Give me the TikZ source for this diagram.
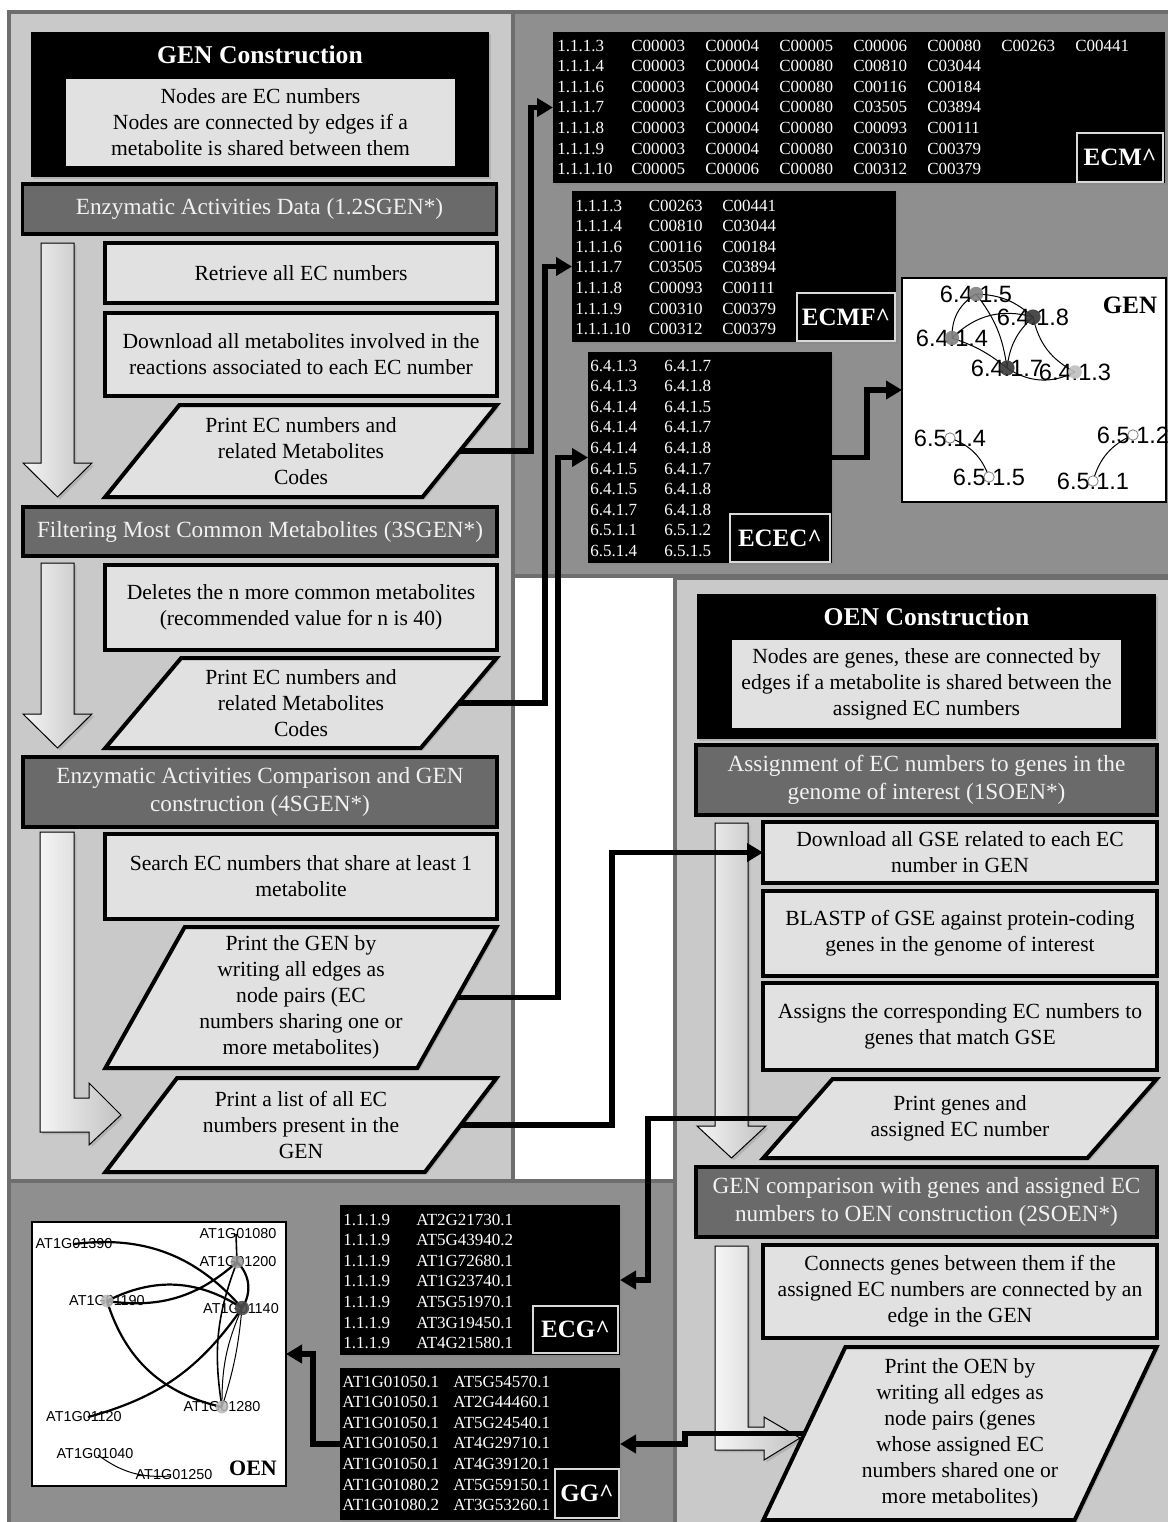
\documentclass[tikz,border=0pt]{standalone}
\usepackage{fontspec}
\setmainfont{Liberation Serif}
\newfontfamily\grafont{Liberation Sans}
\usetikzlibrary{shapes.geometric,arrows.meta,shadows}

\definecolor{panellight}{HTML}{C9C9C9}
\definecolor{paneldark}{HTML}{8F8F8F}
\definecolor{panelline}{HTML}{6E6E6E}
\definecolor{boxfill}{HTML}{E1E1E1}
\definecolor{headfill}{HTML}{6A6A6A}

\tikzset{
  shade box/.style={drop shadow={shadow xshift=1.2pt, shadow yshift=-1.2pt, opacity=0.3}},
  panel/.style={draw=panelline, line width=1.6pt},
  fat/.style={draw=black, line width=0.5pt, left color=black!4, right color=black!24, shade box},
  blackbox/.style={fill=black, inner sep=0pt, outer sep=0pt, shade box},
  title/.style={text=white, font=\bfseries\fontsize{12.8}{15}\selectfont},
  desc/.style={fill=boxfill, align=center, inner sep=0pt, font=\fontsize{10.8}{13}\selectfont},
  head/.style={draw, line width=1.6pt, fill=headfill, text=white!95!black, align=center,
    inner sep=0pt, outer sep=0pt, minimum width=237pt, font=\fontsize{11.6}{14}\selectfont, shade box},
  box/.style={draw, line width=2pt, fill=boxfill, align=center, inner sep=0pt, outer sep=0pt,
    minimum width=196pt, font=\fontsize{10.8}{13}\selectfont, shade box},
  pgram/.style 2 args={trapezium, trapezium stretches=true, trapezium left angle=#1,
    trapezium right angle=#2, draw, line width=2pt, fill=boxfill, align=center,
    inner sep=1pt, outer sep=0pt, minimum width=196pt, font=\fontsize{10.8}{13}\selectfont, shade box},
  tab/.style={text=white, anchor=base west, inner sep=0pt, font=\fontsize{8.5}{10.3}\selectfont},
  tag/.style={fill=black, draw=gray!30, line width=1pt, text=white, inner sep=0pt, outer sep=0pt,
    font=\bfseries\fontsize{12.5}{14}\selectfont},
  graphbox/.style={draw, line width=1pt, fill=white, inner sep=0pt, outer sep=0pt},
  glabel/.style={inner sep=0pt, font=\grafont\fontsize{11.8}{12}\selectfont},
  olabel/.style={inner sep=0pt, font=\grafont\fontsize{7.2}{8}\selectfont},
  gedge/.style={line width=0.5pt},
  oedge/.style={line width=1.1pt},
  conn/.style={line width=2.6pt, -{Triangle[length=8pt,width=9pt]}},
}

\begin{document}
\begin{tikzpicture}[x=0.5pt, y=-0.5pt]
    % Rozmiar rysunku
    \useasboundingbox (0,0) rectangle (1168,1522);

    % Panele
    \draw[panel, fill=paneldark] (513,12) rectangle (1172,576);
    \draw[panel, fill=panellight] (9,12) rectangle (513,1181);
    \draw[panel, fill=panellight] (675,578) rectangle (1172,1526);
    \draw[panel, fill=paneldark] (9,1181) rectangle (675,1526);

    % Szerokie strzalki
    \draw[fat] (41,243) -- (74,243) -- (74,463) -- (92,463) -- (57.5,497) -- (23,463) -- (41,463) -- cycle;
    \draw[fat] (41,563) -- (74,563) -- (74,714) -- (92,714) -- (57.5,748) -- (23,714) -- (41,714) -- cycle;
    \draw[fat] (40,832) -- (74,832) -- (74,1098) -- (89,1098) -- (89,1083) -- (121,1115)
        -- (89,1145) -- (89,1132) -- (40,1132) -- cycle;
    \draw[fat] (715,823) -- (748,823) -- (748,1126) -- (766,1126) -- (731.5,1158) -- (697,1126) -- (715,1126) -- cycle;
    \draw[fat] (715,1246) -- (748,1246) -- (748,1427) -- (764,1427) -- (764,1417) -- (800,1438)
        -- (764,1460) -- (764,1450) -- (715,1450) -- cycle;

    % GEN Construction
    \node[blackbox, minimum width=229pt, minimum height=72.5pt] (gencons) at (260,104.5) {};
    \node[title] (gentitle) at (260,55) {GEN Construction};
    \node[desc, minimum width=194.5pt, minimum height=43.5pt] (gendesc) at (260.5,122.5)
        {Nodes are EC numbers\\Nodes are connected by edges if a\\metabolite is shared between them};

    \node[head, minimum height=25pt] (hd1) at (259.5,209) {Enzymatic Activities Data (1.2SGEN*)};
    \node[box, minimum height=30pt] (bx1) at (301,273) {Retrieve all EC numbers};
    \node[box, minimum height=41.5pt] (bx2) at (301,354.5)
        {Download all metabolites involved in the\\reactions associated to each EC number};
    \node[pgram={50}{130}, minimum height=46pt] (pg1) at (301,451)
        {Print EC numbers and\\related Metabolites\\Codes};

    \node[head, minimum height=24.5pt] (hd2) at (260,531.5) {Filtering Most Common Metabolites (3SGEN*)};
    \node[box, minimum height=42.5pt] (bx3) at (301,607.5)
        {Deletes the n more common metabolites\\(recommended value for n is 40)};
    \node[pgram={49}{131}, minimum height=45pt] (pg2) at (301,703)
        {Print EC numbers and\\related Metabolites\\Codes};

    \node[head, minimum height=35pt] (hd3) at (260,792)
        {Enzymatic Activities Comparison and GEN\\construction (4SGEN*)};
    \node[box, minimum height=42.5pt] (bx4) at (301,876.5)
        {Search EC numbers that share at least 1\\metabolite};
    \node[pgram={61}{119}, minimum height=70.5pt] (pg3) at (301,997.5)
        {Print the GEN by\\writing all edges as\\node pairs (EC\\numbers sharing one or\\more metabolites)};
    \node[pgram={51}{129}, minimum height=47pt] (pg4) at (301,1125)
        {Print a list of all EC\\numbers present in the\\GEN};

    % OEN Construction
    \node[blackbox, minimum width=229.5pt, minimum height=72.5pt] (oencons) at (926.5,666.5) {};
    \node[title] (oentitle) at (926.5,617) {OEN Construction};
    \node[desc, minimum width=194.5pt, minimum height=44pt] (oendesc) at (926.5,684)
        {Nodes are genes, these are connected by\\edges if a metabolite is shared between the\\assigned EC numbers};

    \node[head, minimum width=230.5pt, minimum height=35pt] (hd4) at (926.5,780)
        {Assignment of EC numbers to genes in the\\genome of interest (1SOEN*)};
    \node[box, minimum width=197pt, minimum height=30.5pt] (bx5) at (960,852.5)
        {Download all GSE related to each EC\\number in GEN};
    \node[box, minimum width=197pt, minimum height=42.5pt] (bx6) at (960,933.5)
        {BLASTP of GSE against protein-coding\\genes in the genome of interest};
    \node[box, minimum width=197pt, minimum height=43.5pt] (bx7) at (960,1026.5)
        {Assigns the corresponding EC numbers to\\genes that match GSE};
    \node[pgram={45}{135}, minimum width=197pt, minimum height=39.5pt] (pg5) at (960,1118.5)
        {Print genes and\\assigned EC number};

    \node[head, minimum width=230.5pt, minimum height=35pt] (hd5) at (926.5,1202)
        {GEN comparison with genes and assigned EC\\numbers to OEN construction (2SOEN*)};
    \node[box, minimum width=197pt, minimum height=46.5pt] (bx8) at (960,1291.5)
        {Connects genes between them if the\\assigned EC numbers are connected by an\\edge in the GEN};
    \node[pgram={65}{115}, minimum width=197pt, minimum height=86.5pt] (pg6) at (960,1433.5)
        {Print the OEN by\\writing all edges as\\node pairs (genes\\whose assigned EC\\numbers shared one or\\more metabolites)};

    % Tabele
    \node[blackbox, minimum width=306pt, minimum height=75.5pt] (ecm) at (859,107.5) {};
    \node[tab] (ecmtab) at (557,51) {\begin{tabular}[t]{@{}*{7}{p{37pt}@{}}l@{}}
        1.1.1.3 & C00003 & C00004 & C00005 & C00006 & C00080 & C00263 & C00441\\
        1.1.1.4 & C00003 & C00004 & C00080 & C00810 & C03044 & & \\
        1.1.1.6 & C00003 & C00004 & C00080 & C00116 & C00184 & & \\
        1.1.1.7 & C00003 & C00004 & C00080 & C03505 & C03894 & & \\
        1.1.1.8 & C00003 & C00004 & C00080 & C00093 & C00111 & & \\
        1.1.1.9 & C00003 & C00004 & C00080 & C00310 & C00379 & & \\
        1.1.1.10 & C00005 & C00006 & C00080 & C00312 & C00379 & &
        \end{tabular}};
    \node[tag, minimum width=43pt, minimum height=24.5pt] (ecmtag) at (1120,157.5) {ECM\textasciicircum};

    \node[blackbox, minimum width=162pt, minimum height=75.5pt] (ecmf) at (734,266.5) {};
    \node[tab] (ecmftab) at (575,211) {\begin{tabular}[t]{@{}*{2}{p{36.75pt}@{}}l@{}}
        1.1.1.3 & C00263 & C00441\\
        1.1.1.4 & C00810 & C03044\\
        1.1.1.6 & C00116 & C00184\\
        1.1.1.7 & C03505 & C03894\\
        1.1.1.8 & C00093 & C00111\\
        1.1.1.9 & C00310 & C00379\\
        1.1.1.10 & C00312 & C00379
        \end{tabular}};
    \node[tag, minimum width=49pt, minimum height=24pt] (ecmftag) at (846,317) {ECMF\textasciicircum};

    \node[blackbox, minimum width=122pt, minimum height=105.5pt] (ecec) at (710,457.5) {};
    \node[tab] (ecectab) at (590,371) {\begin{tabular}[t]{@{}p{37pt}@{}l@{}}
        6.4.1.3 & 6.4.1.7\\
        6.4.1.3 & 6.4.1.8\\
        6.4.1.4 & 6.4.1.5\\
        6.4.1.4 & 6.4.1.7\\
        6.4.1.4 & 6.4.1.8\\
        6.4.1.5 & 6.4.1.7\\
        6.4.1.5 & 6.4.1.8\\
        6.4.1.7 & 6.4.1.8\\
        6.5.1.1 & 6.5.1.2\\
        6.5.1.4 & 6.5.1.5
        \end{tabular}};
    \node[tag, minimum width=50pt, minimum height=24pt] (ecectag) at (780,538) {ECEC\textasciicircum};

    \node[blackbox, minimum width=140pt, minimum height=75pt] (ecg) at (480,1280) {};
    \node[tab] (ecgtab) at (343,1225) {\begin{tabular}[t]{@{}p{36.5pt}@{}l@{}}
        1.1.1.9 & AT2G21730.1\\
        1.1.1.9 & AT5G43940.2\\
        1.1.1.9 & AT1G72680.1\\
        1.1.1.9 & AT1G23740.1\\
        1.1.1.9 & AT5G51970.1\\
        1.1.1.9 & AT3G19450.1\\
        1.1.1.9 & AT4G21580.1
        \end{tabular}};
    \node[tag, minimum width=42.5pt, minimum height=23.5pt] (ecgtag) at (575.5,1329.5) {ECG\textasciicircum};

    \node[blackbox, minimum width=140pt, minimum height=76pt] (gg) at (480,1444) {};
    \node[tab] (ggtab) at (342,1387) {\begin{tabular}[t]{@{}p{55.5pt}@{}l@{}}
        AT1G01050.1 & AT5G54570.1\\
        AT1G01050.1 & AT2G44460.1\\
        AT1G01050.1 & AT5G24540.1\\
        AT1G01050.1 & AT4G29710.1\\
        AT1G01050.1 & AT4G39120.1\\
        AT1G01080.2 & AT5G59150.1\\
        AT1G01080.2 & AT3G53260.1
        \end{tabular}};
    \node[tag, minimum width=32pt, minimum height=24.5pt] (ggtag) at (587,1493.5) {GG\textasciicircum};

    % Graf GEN
    \node[graphbox, minimum width=132pt, minimum height=112pt] (gen) at (1034,390) {};
    \node[font=\bfseries\fontsize{12.5}{14}\selectfont] (gentag) at (1130,305) {GEN};
    \coordinate (n6415) at (976,294);
    \coordinate (n6418) at (1033,317);
    \coordinate (n6414) at (952,338);
    \coordinate (n6417) at (1007,368);
    \coordinate (n6413) at (1075,372);
    \coordinate (n6514) at (950,438);
    \coordinate (n6515) at (989,477);
    \coordinate (n6512) at (1133,435);
    \coordinate (n6511) at (1093,481);
    \draw[gedge] (n6415) to[bend left=20] (n6418);
    \draw[gedge] (n6415) to[bend right=30] (n6414);
    \draw[gedge] (n6415) to[bend left=15] (n6417);
    \draw[gedge] (n6414) to[bend left=30] (n6418);
    \draw[gedge] (n6414) to[bend left=10] (n6417);
    \draw[gedge] (n6418) to[bend right=20] (n6417);
    \draw[gedge] (n6418) to[bend right=25] (n6413);
    \draw[gedge] (n6417) to[bend right=30] (n6413);
    \draw[gedge] (n6514) to[bend left=25] (n6515);
    \draw[gedge] (n6512) to[bend right=25] (n6511);
    \node[glabel] (t6415) at (n6415) {6.4.1.5};
    \node[glabel] (t6418) at (n6418) {6.4.1.8};
    \node[glabel] (t6414) at (n6414) {6.4.1.4};
    \node[glabel] (t6417) at (n6417) {6.4.1.7};
    \node[glabel] (t6413) at (n6413) {6.4.1.3};
    \node[glabel] (t6514) at (n6514) {6.5.1.4};
    \node[glabel] (t6515) at (n6515) {6.5.1.5};
    \node[glabel] (t6512) at (n6512) {6.5.1.2};
    \node[glabel] (t6511) at (n6511) {6.5.1.1};
    \fill[black!50, opacity=0.9] (n6415) circle (3.6pt) (n6414) circle (3.6pt);
    \fill[black!78, opacity=0.9] (n6418) circle (3.8pt) (n6417) circle (3.8pt);
    \fill[black!25, opacity=0.9] (n6413) circle (3.4pt);
    \filldraw[fill=white, draw=gray, line width=0.4pt] (n6514) circle (2.6pt) (n6515) circle (2.6pt)
        (n6512) circle (2.6pt) (n6511) circle (2.6pt);

    % Graf OEN
    \node[graphbox, minimum width=127pt, minimum height=132pt] (oen) at (159,1354) {};
    \node[font=\bfseries\fontsize{11}{13}\selectfont] (oentag) at (253,1468) {OEN};
    \coordinate (o1390) at (74,1244);
    \coordinate (o1080) at (236,1234);
    \coordinate (o1200) at (237,1262);
    \coordinate (o1190) at (107,1301);
    \coordinate (o1140) at (242,1308);
    \coordinate (o1280) at (222,1407);
    \coordinate (o1120) at (88,1417);
    \coordinate (o1040) at (98,1455);
    \coordinate (o1250) at (170,1476);
    \draw[oedge] (o1390) to[bend left=28] (o1140);
    \draw[gedge, line width=0.8pt] (o1080) -- (o1200);
    \draw[oedge] (o1190) to[bend right=25] (o1200);
    \draw[oedge] (o1190) to[bend left=30] (o1140);
    \draw[oedge] (o1200) to[bend left=40] (o1140);
    \draw[gedge, line width=0.8pt] (o1200) to[bend right=15] (o1280);
    \draw[gedge] (o1140) to[bend right=12] (o1280);
    \draw[gedge] (o1140) to[bend left=6] (o1280);
    \draw[oedge] (o1190) to[bend right=30] (o1280);
    \draw[oedge] (o1140) to[bend left=20] (o1120);
    \draw[gedge] (o1040) to[bend right=20] (o1250);
    \node[olabel] (l1390) at (o1390) {AT1G01390};
    \node[olabel] (l1080) at (238,1234) {AT1G01080};
    \node[olabel] (l1200) at (238,1262) {AT1G01200};
    \node[olabel] (l1190) at (o1190) {AT1G01190};
    \node[olabel] (l1140) at (241,1309) {AT1G01140};
    \node[olabel] (l1280) at (o1280) {AT1G01280};
    \node[olabel] (l1120) at (84,1417) {AT1G01120};
    \node[olabel] (l1040) at (95,1454) {AT1G01040};
    \node[olabel] (l1250) at (174,1475) {AT1G01250};
    \fill[black!40, opacity=0.85] (o1200) circle (3.2pt);
    \fill[black!28, opacity=0.85] (o1190) circle (3.2pt) (o1280) circle (3.2pt);
    \fill[black!70, opacity=0.9] (o1140) circle (3.6pt);

    % Polaczenia
    \coordinate (k1) at (531,0);
    \coordinate (k2) at (545,0);
    \coordinate (k3) at (558,0);
    \coordinate (k4) at (867,0);
    \coordinate (k5) at (612,0);
    \coordinate (k6) at (648,0);
    \coordinate (k7) at (685,0);
    \coordinate (k8) at (313,0);
    \draw[conn] (pg1.right side) -| (k1 |- ecm.west) -- (ecm.west);
    \draw[conn] (pg2.right side) -| (k2 |- ecmf.west) -- (ecmf.west);
    \draw[conn] (pg3.right side) -| (k3 |- ecec.west) -- (ecec.west);
    \draw[conn] (ecec.east) -| (k4 |- gen.west) -- (gen.west);
    \draw[conn] (pg4.right side) -| (k5 |- bx5.west) -- (bx5.west);
    \draw[conn] (pg5.left side) -| (k6 |- ecg.east) -- (ecg.east);
    \draw[conn] (pg6.left side) -| (k7 |- gg.east) -- (gg.east);
    \draw[conn] (gg.west) -| (k8 |- oen.east) -- (oen.east);
\end{tikzpicture}
\end{document}
